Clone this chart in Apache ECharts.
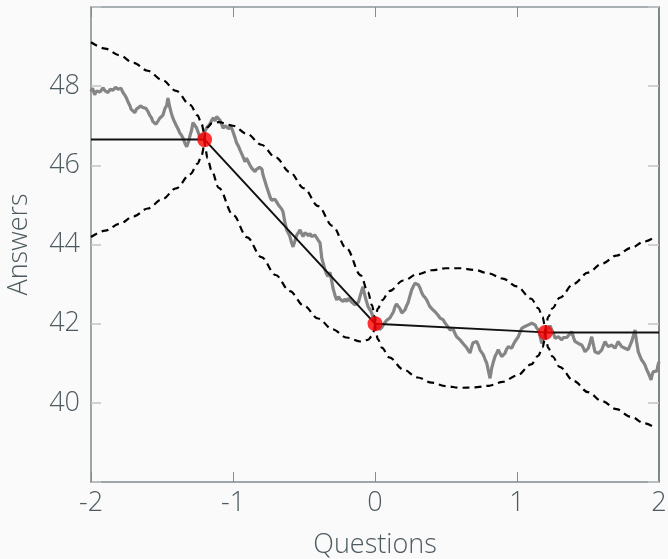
<!DOCTYPE html>
<html>
<head>
<meta charset="utf-8">
<script src="https://cdn.jsdelivr.net/npm/echarts@6/dist/echarts.min.js"></script>
<style>
html,body{margin:0;padding:0;background:#fafafa;}
#chart{width:668px;height:559px;}
</style>
</head>
<body>
<div id="chart"></div>
<script>
// ---- data ----
const xTicks = [-2, -1, 0, 1, 2];
const yTicks = [40, 42, 44, 46, 48];

// observed noisy path (grey)
const walkX = [-2.000,-1.989,-1.974,-1.961,-1.951,-1.937,-1.915,-1.901,-1.880,-1.866,-1.845,-1.827,-1.810,-1.789,-1.775,-1.763,-1.750,-1.739,-1.725,-1.718,-1.704,-1.692,-1.680,-1.669,-1.651,-1.634,-1.613,-1.599,-1.587,-1.574,-1.563,-1.553,-1.542,-1.528,-1.516,-1.504,-1.493,-1.479,-1.468,-1.458,-1.446,-1.433,-1.423,-1.412,-1.401,-1.387,-1.375,-1.363,-1.352,-1.338,-1.326,-1.313,-1.303,-1.291,-1.282,-1.268,-1.257,-1.246,-1.232,-1.218,-1.204,-1.190,-1.176,-1.162,-1.150,-1.137,-1.127,-1.115,-1.106,-1.092,-1.081,-1.070,-1.056,-1.044,-1.032,-1.021,-1.011,-1.000,-0.986,-0.974,-0.961,-0.951,-0.940,-0.930,-0.915,-0.905,-0.894,-0.880,-0.868,-0.856,-0.845,-0.835,-0.824,-0.813,-0.803,-0.796,-0.789,-0.775,-0.763,-0.750,-0.739,-0.729,-0.718,-0.704,-0.692,-0.680,-0.669,-0.658,-0.648,-0.634,-0.622,-0.609,-0.599,-0.588,-0.577,-0.563,-0.551,-0.539,-0.528,-0.518,-0.507,-0.493,-0.481,-0.468,-0.458,-0.447,-0.437,-0.423,-0.411,-0.398,-0.387,-0.375,-0.363,-0.352,-0.342,-0.331,-0.317,-0.306,-0.296,-0.282,-0.270,-0.257,-0.246,-0.236,-0.225,-0.211,-0.199,-0.187,-0.176,-0.165,-0.155,-0.141,-0.129,-0.116,-0.106,-0.095,-0.085,-0.074,-0.063,-0.049,-0.035,-0.023,-0.011,0.000,0.011,0.021,0.032,0.047,0.060,0.070,0.081,0.092,0.106,0.118,0.130,0.141,0.151,0.162,0.176,0.188,0.201,0.211,0.222,0.232,0.246,0.258,0.271,0.282,0.294,0.306,0.317,0.327,0.338,0.352,0.364,0.377,0.387,0.398,0.408,0.423,0.435,0.447,0.458,0.468,0.479,0.493,0.505,0.518,0.528,0.539,0.549,0.563,0.575,0.588,0.599,0.609,0.620,0.634,0.646,0.658,0.669,0.680,0.690,0.704,0.716,0.729,0.739,0.750,0.763,0.775,0.787,0.799,0.810,0.822,0.835,0.845,0.856,0.868,0.880,0.892,0.905,0.915,0.926,0.939,0.951,0.963,0.975,0.986,0.996,1.009,1.021,1.033,1.046,1.056,1.067,1.080,1.092,1.104,1.116,1.127,1.137,1.150,1.162,1.174,1.187,1.197,1.208,1.222,1.232,1.244,1.257,1.268,1.279,1.291,1.303,1.315,1.327,1.338,1.349,1.361,1.373,1.385,1.398,1.408,1.419,1.432,1.444,1.456,1.468,1.479,1.489,1.502,1.514,1.526,1.539,1.549,1.560,1.573,1.585,1.597,1.609,1.620,1.630,1.643,1.655,1.667,1.680,1.690,1.701,1.713,1.725,1.737,1.750,1.761,1.771,1.784,1.796,1.808,1.820,1.831,1.842,1.854,1.866,1.878,1.891,1.901,1.912,1.925,1.937,1.944,1.951,1.960,1.972,1.984,1.993,2.000];
const walkY = [47.86,47.95,47.78,47.88,47.92,47.85,47.96,47.88,47.84,47.92,47.9,47.97,47.92,47.95,47.84,47.78,47.7,47.6,47.5,47.42,47.38,47.33,47.42,47.44,47.5,47.46,47.44,47.36,47.27,47.2,47.1,47.14,47.04,47.12,47.19,47.24,47.27,47.44,47.5,47.7,47.48,47.3,47.19,47.1,47.02,46.92,46.82,46.76,46.69,46.55,46.47,46.6,46.75,46.9,47.08,47.05,46.95,46.9,46.7,46.72,46.8,46.92,46.97,47.05,47.14,47.2,47.12,47.23,47.27,47.14,47.05,46.94,47.0,47.02,46.93,46.89,46.95,46.85,46.7,46.56,46.48,46.39,46.3,46.22,46.09,46.18,46.14,46.0,45.93,45.88,45.84,45.9,45.89,45.95,46.0,45.9,45.76,45.6,45.46,45.32,45.2,45.12,45.08,45.14,45.12,45.0,44.95,44.9,44.83,44.55,44.37,44.28,44.2,44.05,43.94,44.1,44.24,44.3,44.37,44.28,44.2,44.3,44.32,44.22,44.28,44.2,44.16,44.24,44.2,44.1,44.04,43.66,43.5,43.36,43.26,43.19,43.3,43.1,42.9,42.72,42.6,42.68,42.62,42.58,42.56,42.62,42.56,42.64,42.6,42.55,42.52,42.48,42.47,42.55,42.68,42.82,42.93,42.75,42.6,42.43,42.35,42.27,42.12,42.0,41.88,41.95,41.85,41.9,41.98,42.02,42.08,42.1,42.15,42.18,42.3,42.43,42.5,42.52,42.38,42.27,42.32,42.35,42.45,42.52,42.7,42.85,42.95,43.02,43.05,42.98,42.9,42.8,42.72,42.66,42.6,42.5,42.43,42.38,42.35,42.3,42.26,42.2,42.14,42.12,42.1,42.02,41.97,41.9,41.84,41.86,41.88,41.75,41.67,41.62,41.59,41.55,41.5,41.45,41.39,41.32,41.26,41.4,41.52,41.5,41.55,41.45,41.34,41.28,41.21,41.1,41.0,40.8,40.62,40.88,41.05,41.17,41.25,41.34,41.25,41.17,41.22,41.25,41.35,41.42,41.4,41.38,41.48,41.55,41.6,41.67,41.78,41.88,41.9,41.93,41.95,41.97,42.0,42.01,41.98,41.97,41.9,41.84,41.7,41.5,41.65,41.8,41.85,41.88,41.95,41.92,41.75,41.63,41.68,41.67,41.62,41.59,41.65,41.68,41.65,41.67,41.74,41.8,41.65,41.55,41.52,41.5,41.48,41.46,41.38,41.29,41.34,41.38,41.52,41.67,41.45,41.29,41.27,41.25,41.3,41.34,41.45,41.55,41.48,41.42,41.44,41.46,41.42,41.38,41.46,41.55,41.48,41.42,41.4,41.38,41.36,41.34,41.45,41.55,41.7,41.84,41.55,41.29,41.18,41.08,41.02,40.96,40.85,40.75,40.65,40.58,40.7,40.79,40.75,40.8,40.95,41.04];

// fitted piecewise-linear mean
const meanX = [-2, -1.2, 0, 1.2, 2];
const meanY = [46.65, 46.65, 42.0, 41.78, 41.78];

// sampled points (red)
const ptX = [-1.2, 0, 1.2];
const ptY = [46.65, 42.0, 41.78];

// dashed bands, segment by segment
const bandLeftX  = [-2, -1.9, -1.8, -1.7, -1.6, -1.5, -1.4, -1.3, -1.25, -1.22, -1.205, -1.2];
const bandLeftUp = [49.11, 48.95, 48.78, 48.59, 48.39, 48.16, 47.88, 47.52, 47.26, 47.04, 46.84, 46.65];
const bandLeftLo = [44.19, 44.35, 44.52, 44.71, 44.91, 45.14, 45.42, 45.78, 46.04, 46.26, 46.46, 46.65];

const bandMid1X  = [-1.2, -1.195, -1.18, -1.15, -1.1, -1.0, -0.9, -0.8, -0.7, -0.6, -0.5, -0.4, -0.3, -0.2, -0.1, -0.05, -0.02, -0.005, 0];
const bandMid1Up = [46.65, 46.82, 46.96, 47.06, 47.09, 47.00, 46.79, 46.52, 46.20, 45.83, 45.42, 44.97, 44.47, 43.90, 43.22, 42.80, 42.46, 42.21, 42.0];
const bandMid1Lo = [46.65, 46.44, 46.18, 45.86, 45.43, 44.75, 44.18, 43.68, 43.23, 42.82, 42.45, 42.13, 41.86, 41.65, 41.55, 41.59, 41.69, 41.83, 42.0];

const bandMid2X  = [0, 0.005, 0.02, 0.05, 0.1, 0.2, 0.3, 0.4, 0.5, 0.6, 0.7, 0.8, 0.9, 1.0, 1.1, 1.15, 1.18, 1.195, 1.2];
const bandMid2Up = [42.0, 42.19, 42.38, 42.59, 42.82, 43.09, 43.25, 43.35, 43.40, 43.40, 43.36, 43.27, 43.14, 42.94, 42.63, 42.39, 42.17, 41.97, 41.78];
const bandMid2Lo = [42.0, 41.81, 41.61, 41.39, 41.15, 40.84, 40.64, 40.51, 40.42, 40.38, 40.39, 40.43, 40.53, 40.69, 40.97, 41.19, 41.40, 41.59, 41.78];

const bandRightX  = [1.2, 1.205, 1.22, 1.25, 1.3, 1.4, 1.5, 1.6, 1.7, 1.8, 1.9, 1.97];
const bandRightUp = [41.78, 41.97, 42.17, 42.39, 42.65, 43.01, 43.29, 43.52, 43.72, 43.91, 44.08, 44.19];
const bandRightLo = [41.78, 41.59, 41.39, 41.17, 40.91, 40.55, 40.27, 40.04, 39.84, 39.65, 39.48, 39.37];

// ---- chart ----
const zip = (xs, ys) => xs.map((x, i) => [x, ys[i]]);
const FONT = 'Open Sans';
const LABEL = '#4d5b61';

function dashed(xs, ys) {
  return {
    type: 'line', data: zip(xs, ys), showSymbol: false, smooth: 0.35, smoothMonotone: 'x',
    lineStyle: { color: '#000', width: 2.2, type: [7, 5] }, z: 3, silent: true
  };
}

const chart = echarts.init(document.getElementById('chart'), null, { renderer: 'canvas' });
chart.setOption({
  backgroundColor: '#fafafa',
  animation: false,
  grid: { left: 91, right: 9, top: 7, bottom: 77, containLabel: false, outerBoundsMode: 'none' },
  xAxis: [{
    type: 'value', min: -2, max: 2, interval: 1, position: 'bottom',
    name: 'Questions', nameLocation: 'middle', nameGap: 50,
    nameTextStyle: { fontFamily: FONT, fontSize: 27, fontWeight: 300, color: LABEL },
    axisLine: { show: true, onZero: false, lineStyle: { color: '#7d8a8e', width: 1.5 } },
    axisTick: { show: true, inside: true, length: 10, lineStyle: { color: '#8a8a8a' } },
    axisLabel: { fontFamily: FONT, fontSize: 27, fontWeight: 300, color: LABEL, margin: 8,
      formatter: v => xTicks.includes(v) ? String(v) : '' },
    splitLine: { show: false }
  }, {
    type: 'value', min: -2, max: 2, interval: 1, position: 'top',
    axisLine: { show: true, onZero: false, lineStyle: { color: '#8a9699', width: 1.5 } },
    axisTick: { show: true, inside: true, length: 10, lineStyle: { color: '#8a8a8a' } },
    axisLabel: { show: false }, splitLine: { show: false }
  }],
  yAxis: [{
    type: 'value', min: 38, max: 50, interval: 2, position: 'left',
    name: 'Answers', nameLocation: 'middle', nameGap: 58, nameRotate: 90,
    nameTextStyle: { fontFamily: FONT, fontSize: 27, fontWeight: 300, color: LABEL },
    axisLine: { show: true, onZero: false, lineStyle: { color: '#7d8a8e', width: 1.5 } },
    axisTick: { show: true, inside: true, length: 10, lineStyle: { color: '#c4c4c4', width: 1.5 } },
    axisLabel: { fontFamily: FONT, fontSize: 27, fontWeight: 300, color: LABEL, margin: 11,
      formatter: v => yTicks.includes(v) ? String(v) : '' },
    splitLine: { show: false }
  }, {
    type: 'value', min: 38, max: 50, interval: 2, position: 'right',
    axisLine: { show: true, onZero: false, lineStyle: { color: '#555e61', width: 1.5 } },
    axisTick: { show: true, inside: true, length: 11, lineStyle: { color: '#c4c4c4', width: 1.5 } },
    axisLabel: { show: false }, splitLine: { show: false }
  }],
  series: [
    { type: 'line', data: zip(walkX, walkY), showSymbol: false,
      lineStyle: { color: '#858585', width: 3.2 }, z: 2, silent: true },
    dashed(bandLeftX, bandLeftUp), dashed(bandLeftX, bandLeftLo),
    dashed(bandMid1X, bandMid1Up), dashed(bandMid1X, bandMid1Lo),
    dashed(bandMid2X, bandMid2Up), dashed(bandMid2X, bandMid2Lo),
    dashed(bandRightX, bandRightUp), dashed(bandRightX, bandRightLo),
    { type: 'line', data: zip(meanX, meanY), showSymbol: false,
      lineStyle: { color: '#111', width: 2 }, z: 4, silent: true },
    { type: 'scatter', data: zip(ptX, ptY), symbolSize: 15,
      itemStyle: { color: '#ff0000' }, z: 5, silent: true }
  ]
});
</script>
</body>
</html>
